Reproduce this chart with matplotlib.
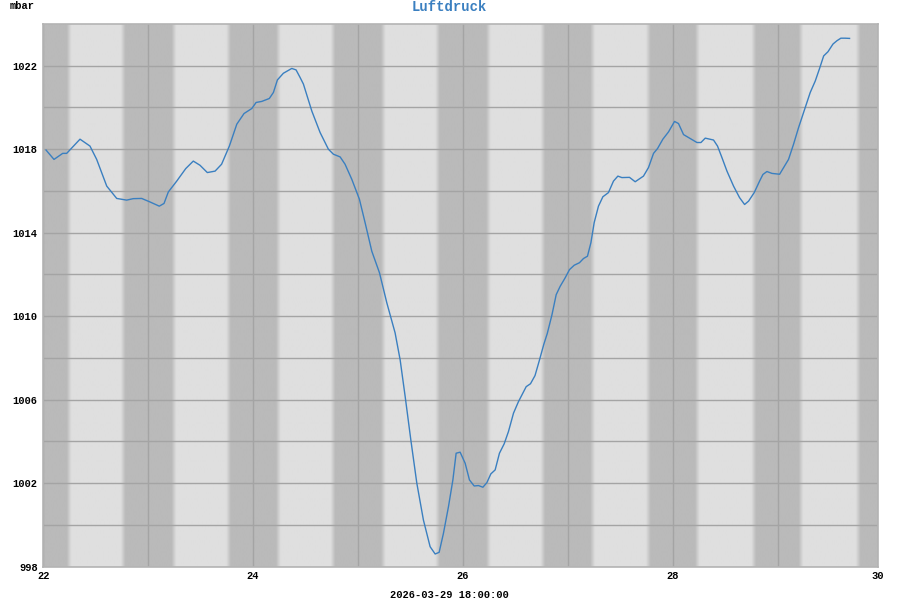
import numpy as np
import matplotlib.pyplot as plt

# Tag (Maerz 2026) und Luftdruck in mbar
days = [22.026, 22.102, 22.185, 22.223, 22.35, 22.445, 22.509, 22.605, 22.70, 22.795,
        22.858, 22.938, 23.018, 23.106, 23.151, 23.192, 23.272, 23.358, 23.43, 23.494,
        23.564, 23.638, 23.70, 23.774, 23.845, 23.914, 23.988, 24.029, 24.083, 24.155,
        24.194, 24.232, 24.289, 24.369, 24.41, 24.448, 24.48, 24.56, 24.639, 24.718,
        24.766, 24.83, 24.877, 24.941, 25.014, 25.068, 25.132, 25.205, 25.275, 25.354,
        25.402, 25.45, 25.504, 25.561, 25.624, 25.688, 25.736, 25.774, 25.815, 25.863,
        25.905, 25.936, 25.974, 26.022, 26.063, 26.108, 26.149, 26.191, 26.229, 26.267,
        26.308, 26.349, 26.394, 26.435, 26.483, 26.53, 26.604, 26.645, 26.688, 26.728,
        26.772, 26.805, 26.849, 26.89, 26.928, 26.976, 27.017, 27.062, 27.112, 27.15,
        27.188, 27.221, 27.252, 27.293, 27.335, 27.388, 27.436, 27.478, 27.516, 27.589,
        27.643, 27.722, 27.77, 27.818, 27.856, 27.907, 27.961, 28.018, 28.056, 28.104,
        28.168, 28.232, 28.27, 28.311, 28.39, 28.428, 28.47, 28.518, 28.581, 28.638,
        28.686, 28.724, 28.778, 28.829, 28.861, 28.899, 28.947, 29.02, 29.058, 29.105,
        29.153, 29.201, 29.265, 29.312, 29.36, 29.401, 29.44, 29.481, 29.529, 29.567,
        29.604, 29.645, 29.687]
druck = [1017.96, 1017.51, 1017.80, 1017.80, 1018.48, 1018.15, 1017.51, 1016.23, 1015.64, 1015.56,
         1015.63, 1015.64, 1015.47, 1015.27, 1015.40, 1015.95, 1016.47, 1017.07, 1017.43, 1017.23,
         1016.88, 1016.95, 1017.28, 1018.15, 1019.20, 1019.71, 1019.95, 1020.24, 1020.29, 1020.43,
         1020.72, 1021.32, 1021.64, 1021.87, 1021.80, 1021.44, 1021.12, 1019.83, 1018.80, 1018.00,
         1017.76, 1017.63, 1017.28, 1016.56, 1015.60, 1014.48, 1013.11, 1012.08, 1010.64, 1009.20,
         1007.91, 1006.15, 1004.07, 1002.00, 1000.23, 998.95, 998.60, 998.68, 999.59, 1000.87,
         1002.15, 1003.43, 1003.48, 1002.95, 1002.15, 1001.86, 1001.88, 1001.80, 1002.02, 1002.44,
         1002.63, 1003.43, 1003.88, 1004.47, 1005.35, 1005.90, 1006.62, 1006.76, 1007.15, 1007.85,
         1008.65, 1009.17, 1010.05, 1011.03, 1011.43, 1011.84, 1012.23, 1012.44, 1012.56, 1012.76,
         1012.87, 1013.52, 1014.48, 1015.27, 1015.72, 1015.92, 1016.47, 1016.71, 1016.64, 1016.65,
         1016.44, 1016.71, 1017.12, 1017.80, 1018.03, 1018.48, 1018.83, 1019.33, 1019.23, 1018.70,
         1018.51, 1018.32, 1018.32, 1018.53, 1018.44, 1018.15, 1017.60, 1016.95, 1016.23, 1015.68,
         1015.35, 1015.51, 1015.92, 1016.47, 1016.79, 1016.93, 1016.84, 1016.80, 1017.12, 1017.51,
         1018.24, 1019.04, 1020.00, 1020.72, 1021.27, 1021.87, 1022.47, 1022.67, 1023.04, 1023.20,
         1023.32, 1023.32, 1023.31]

# Naechte (Beginn Daemmerung, Ende Daemmerung)
naechte = [(21.74, 22.27), (22.74, 23.27), (23.745, 24.265), (24.74, 25.265), (25.737, 26.267),
           (26.74, 27.26), (27.745, 28.258), (28.75, 29.245), (29.745, 30.3)]

x_ticks = [22, 24, 26, 28, 29.955]
x_labels = ["22", "24", "26", "28", "30"]
y_ticks = [998, 1002, 1006, 1010, 1014, 1018, 1022]

mono = "Liberation Mono"
blau = "#3a7fc0"

fig = plt.figure(figsize=(9, 6), dpi=100)
ax = fig.add_axes([0.0481, 0.0558, 0.9271, 0.9042])

# Hintergrund Tag/Nacht
xmin, xmax = 22, 29.955
xs = np.linspace(xmin, xmax, 3000)
fade = 0.045
dunkel = np.zeros_like(xs)
for s, e in naechte:
    d = np.clip((xs - s) / fade, 0, 1) * np.clip((e - xs) / fade, 0, 1)
    dunkel = np.maximum(dunkel, d)
hell, dk = 223, 186
grau = (hell - (hell - dk) * dunkel) / 255.0
img = np.dstack([grau, grau, grau])[None, :, :].reshape(1, -1, 3)
ax.imshow(img, extent=[xmin, xmax, 998, 1024], aspect="auto", zorder=0, interpolation="bilinear")

ax.plot(days, druck, color=blau, lw=1.0, zorder=3)

ax.set_xlim(xmin, xmax)
ax.set_ylim(998, 1024)
ax.set_axisbelow(True)
ax.set_xticks(x_ticks)
ax.set_xticklabels(x_labels)
ax.set_xticks([23, 25, 27, 29], minor=True)
ax.set_yticks(y_ticks)
ax.set_yticks([1000, 1004, 1008, 1012, 1016, 1020], minor=True)
ax.grid(True, which="both", color="#a4a4a4", lw=1.0)
ax.tick_params(which="both", length=0)
ax.tick_params(axis="y", pad=4)
ax.tick_params(axis="x", pad=3)
for lab in ax.get_xticklabels() + ax.get_yticklabels():
    lab.set_fontfamily(mono)
    lab.set_fontweight("bold")
    lab.set_fontsize(7.5)
for sp in ax.spines.values():
    sp.set_color("#b4b4b4")
    sp.set_linewidth(1.2)

fig.text(0.4997, 0.988, "Luftdruck", color=blau, fontfamily=mono, fontweight="bold",
         fontsize=10, ha="center", va="center")
fig.text(0.011, 0.99, "mbar", fontfamily=mono, fontweight="bold", fontsize=7.5,
         ha="left", va="center")
fig.text(0.499, 0.0083, "2026-03-29 18:00:00", fontfamily=mono, fontweight="bold",
         fontsize=7.5, ha="center", va="center")

plt.savefig("out.png", dpi=100)
